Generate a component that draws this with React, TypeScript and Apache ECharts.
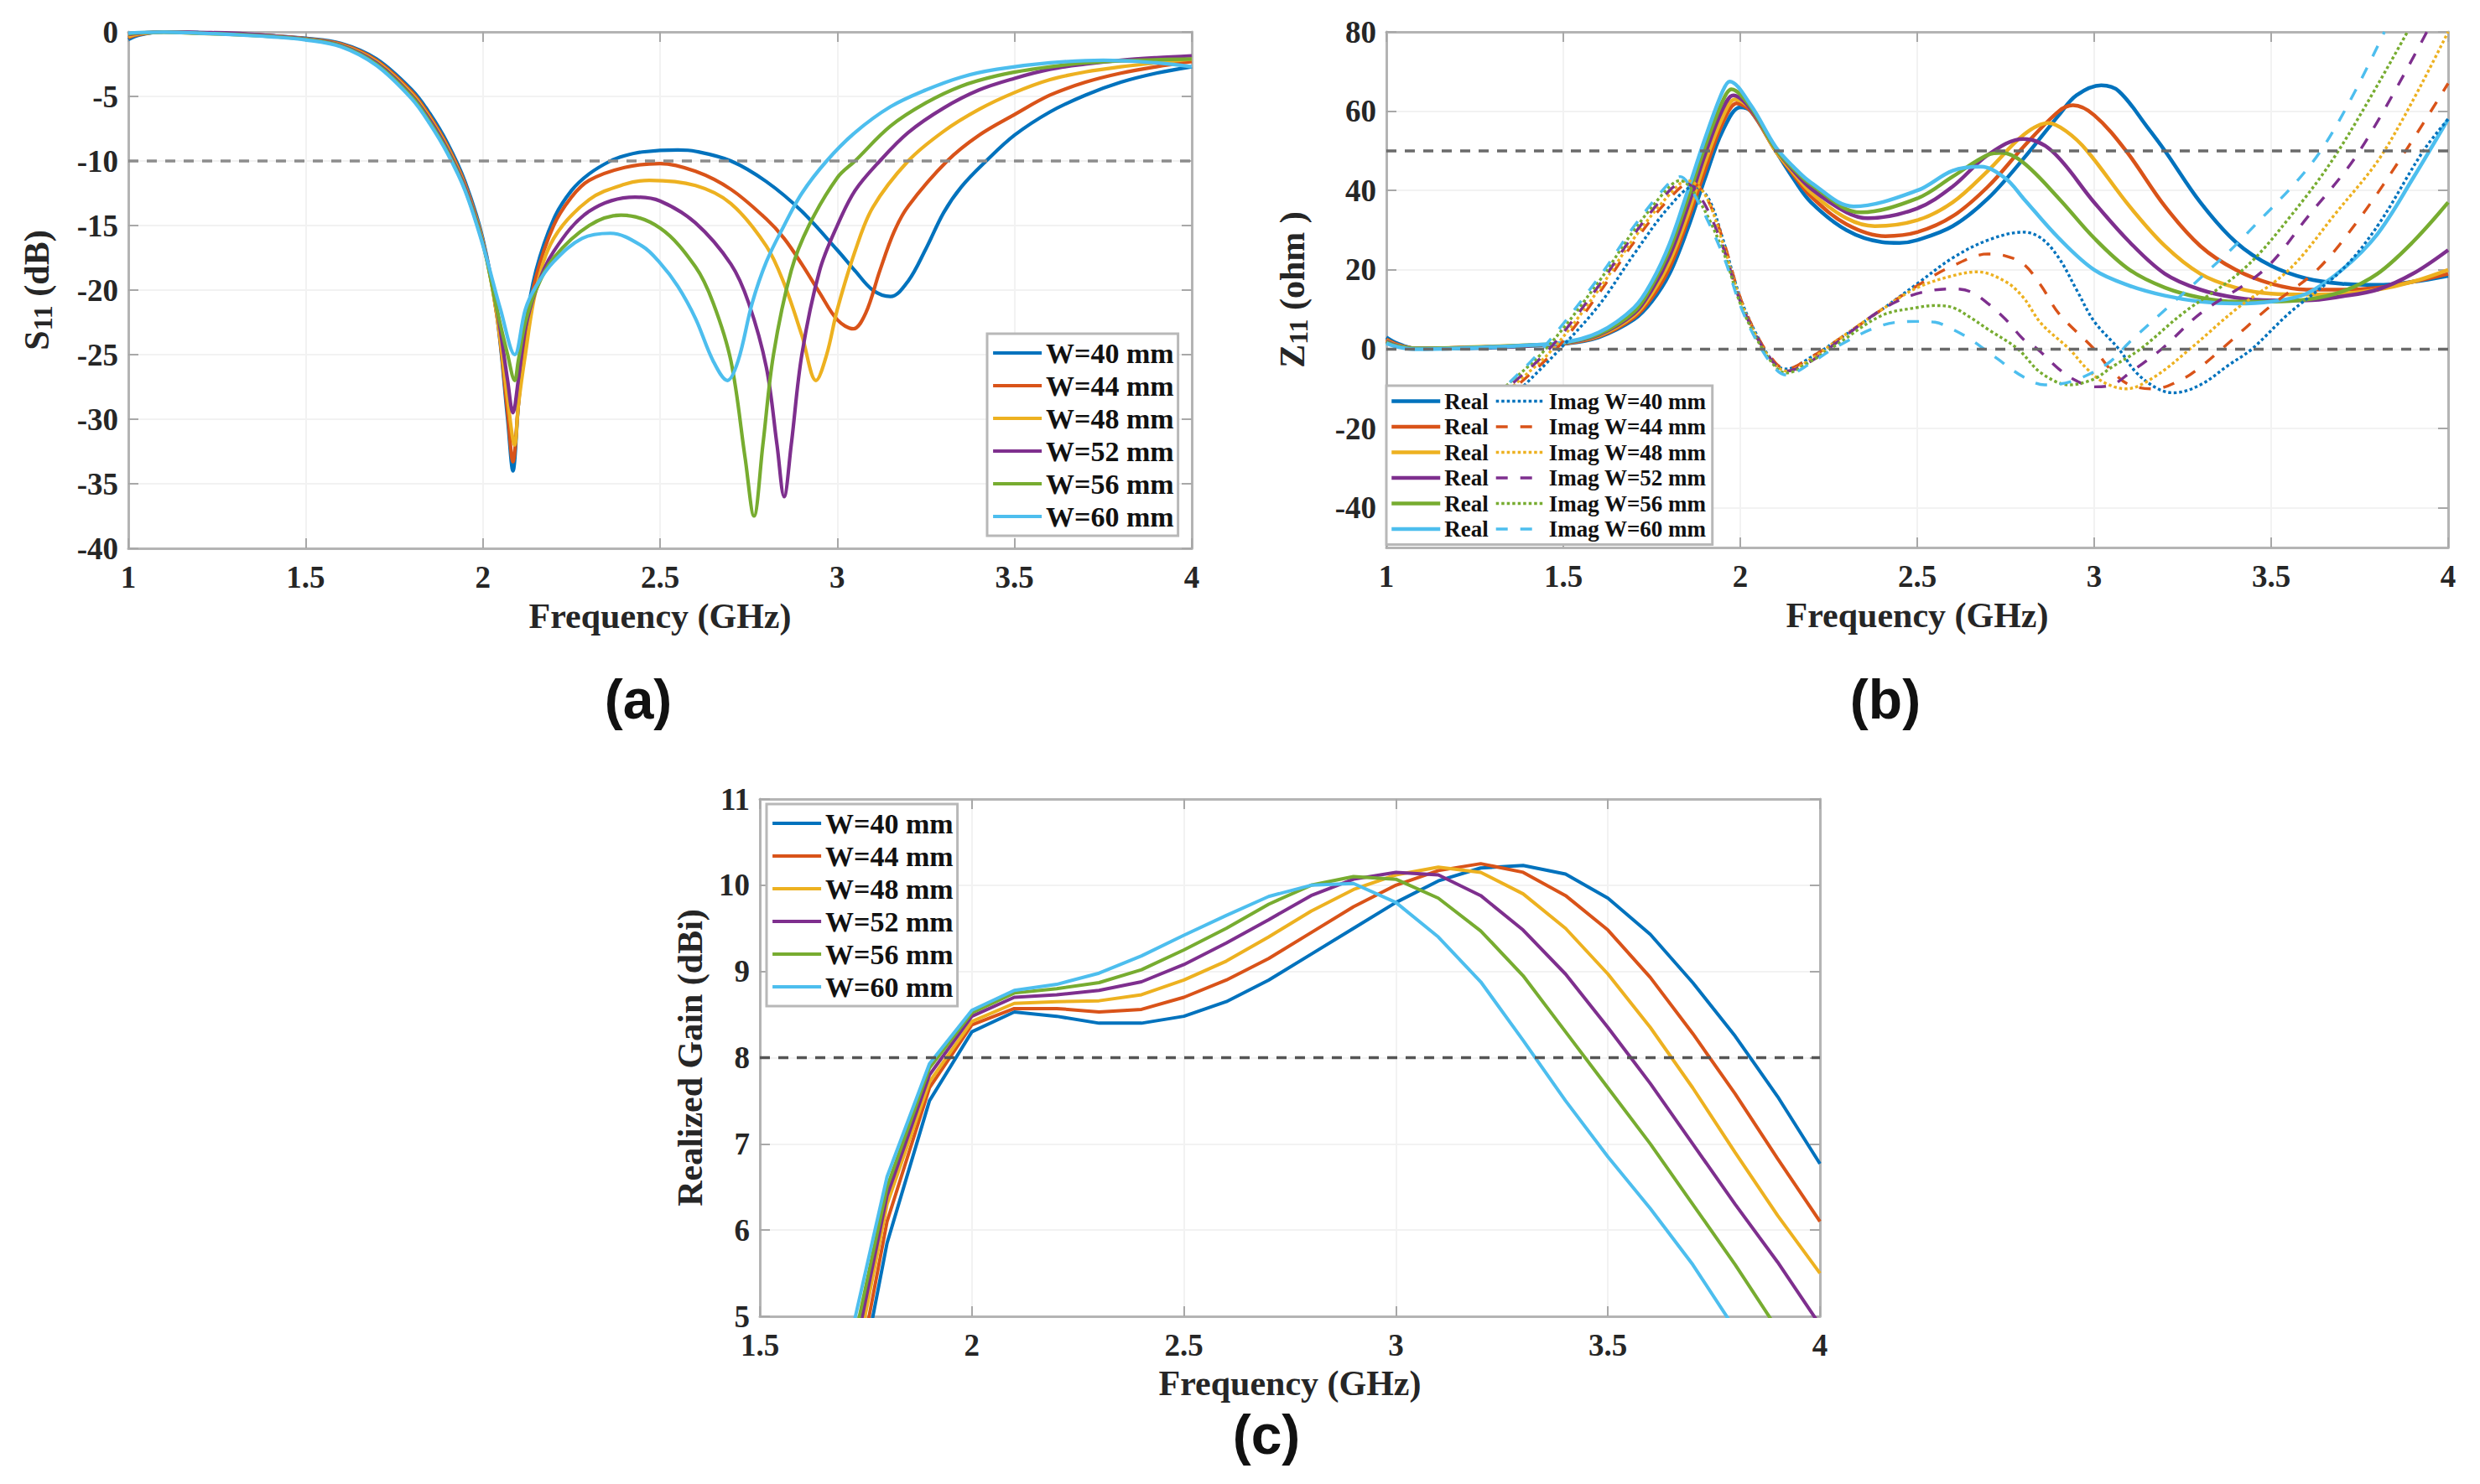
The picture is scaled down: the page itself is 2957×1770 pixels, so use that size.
import React, { useEffect, useRef } from "react";
import * as echarts from "echarts";

type Pt = [number, number];

const COLORS = ["#0072BD", "#D95319", "#EDB120", "#7E2F8E", "#77AC30", "#4DBEEE"];
const WIDTHS = ["W=40 mm", "W=44 mm", "W=48 mm", "W=52 mm", "W=56 mm", "W=60 mm"];
const SERIF = "'Liberation Serif', 'Times New Roman', serif";

// (a) S11
const s11W40: Pt[] = [[1, -0.6], [1.03, -0.25], [1.1, 0], [1.2, -0.05], [1.3, -0.15], [1.4, -0.3], [1.5, -0.5], [1.6, -0.9], [1.7, -2.1], [1.8, -4.5], [1.85, -6.3], [1.9, -8.6], [1.95, -11.6], [2, -16], [2.04, -22], [2.07, -30], [2.085, -34], [2.1, -29], [2.12, -23], [2.15, -18.5], [2.2, -14.5], [2.25, -12.3], [2.3, -11], [2.36, -10], [2.4, -9.6], [2.45, -9.3], [2.55, -9.15], [2.6, -9.25], [2.7, -10], [2.8, -11.6], [2.9, -13.9], [3, -16.9], [3.05, -18.5], [3.1, -20], [3.15, -20.5], [3.2, -19.3], [3.25, -16.8], [3.3, -14], [3.35, -12], [3.42, -10], [3.5, -8], [3.6, -6.2], [3.7, -4.9], [3.8, -3.9], [3.9, -3.2], [4, -2.7]];
const s11W44: Pt[] = [[1, -0.45], [1.03, -0.2], [1.1, 0], [1.2, -0.08], [1.3, -0.16], [1.4, -0.3], [1.5, -0.52], [1.6, -0.95], [1.7, -2.2], [1.8, -4.65], [1.85, -6.5], [1.9, -8.8], [1.95, -11.8], [2, -16.2], [2.04, -22], [2.07, -29.5], [2.085, -33.3], [2.1, -29], [2.12, -23.5], [2.15, -19], [2.2, -15], [2.25, -12.8], [2.3, -11.5], [2.4, -10.5], [2.5, -10.2], [2.6, -10.8], [2.7, -12.2], [2.8, -14.5], [2.85, -16], [2.9, -18], [2.95, -20.2], [3, -22.3], [3.045, -23], [3.08, -21.8], [3.12, -18.5], [3.16, -15.5], [3.2, -13.5], [3.31, -10], [3.4, -8], [3.5, -6.4], [3.6, -4.9], [3.7, -3.9], [3.8, -3.2], [3.9, -2.7], [4, -2.3]];
const s11W48: Pt[] = [[1, -0.35], [1.03, -0.15], [1.1, -0.02], [1.2, -0.12], [1.3, -0.2], [1.4, -0.32], [1.5, -0.55], [1.6, -1], [1.7, -2.3], [1.8, -4.8], [1.85, -6.65], [1.9, -8.95], [1.95, -11.95], [2, -16.2], [2.04, -22], [2.07, -28.5], [2.09, -32], [2.1, -29], [2.12, -25], [2.15, -20], [2.2, -16], [2.3, -13], [2.4, -11.8], [2.47, -11.5], [2.6, -11.9], [2.7, -13.3], [2.8, -16.6], [2.85, -19.5], [2.9, -23.5], [2.94, -27], [2.97, -25], [3, -21.5], [3.05, -17], [3.1, -13.6], [3.2, -10], [3.3, -7.7], [3.4, -6], [3.5, -4.7], [3.6, -3.7], [3.7, -3.1], [3.8, -2.7], [3.9, -2.4], [4, -2.1]];
const s11W52: Pt[] = [[1, -0.2], [1.03, -0.1], [1.1, 0], [1.2, -0.05], [1.3, -0.1], [1.4, -0.3], [1.5, -0.55], [1.6, -1.05], [1.7, -2.4], [1.8, -4.95], [1.85, -6.8], [1.9, -9.1], [1.95, -12.05], [2, -16.3], [2.04, -21.5], [2.07, -27], [2.085, -29.5], [2.1, -27], [2.12, -23], [2.15, -20], [2.2, -17], [2.3, -13.9], [2.43, -12.8], [2.5, -13.1], [2.6, -14.8], [2.7, -18], [2.75, -21], [2.8, -26], [2.83, -32], [2.85, -36], [2.87, -32], [2.9, -25], [2.95, -18.5], [3, -15], [3.05, -12.3], [3.12, -10], [3.2, -7.8], [3.3, -5.9], [3.4, -4.5], [3.5, -3.6], [3.6, -2.9], [3.7, -2.5], [3.8, -2.2], [3.9, -2], [4, -1.85]];
const s11W56: Pt[] = [[1, -0.15], [1.03, -0.08], [1.1, -0.02], [1.2, -0.1], [1.3, -0.2], [1.4, -0.35], [1.5, -0.58], [1.6, -1.1], [1.7, -2.5], [1.8, -5.05], [1.85, -6.95], [1.9, -9.25], [1.95, -12.2], [2, -16.4], [2.04, -21.5], [2.07, -25], [2.09, -27], [2.1, -25.5], [2.12, -22.5], [2.15, -20], [2.2, -17.5], [2.3, -15], [2.39, -14.2], [2.5, -15.2], [2.6, -18.2], [2.65, -21], [2.7, -25.5], [2.74, -33], [2.765, -37.5], [2.79, -32], [2.82, -25], [2.87, -18.5], [2.92, -15], [3, -11.3], [3.05, -10], [3.15, -7.3], [3.25, -5.5], [3.35, -4.2], [3.45, -3.4], [3.55, -2.9], [3.7, -2.4], [3.85, -2.2], [4, -2.1]];
const s11W60: Pt[] = [[1, -0.1], [1.03, -0.05], [1.1, -0.02], [1.2, -0.1], [1.3, -0.22], [1.4, -0.38], [1.5, -0.62], [1.6, -1.15], [1.7, -2.6], [1.8, -5.2], [1.85, -7.1], [1.9, -9.4], [1.95, -12.3], [2, -16.5], [2.05, -21.5], [2.09, -25], [2.12, -21.5], [2.15, -19.7], [2.2, -17.8], [2.28, -16], [2.36, -15.6], [2.45, -16.6], [2.5, -17.9], [2.55, -19.7], [2.6, -22.2], [2.65, -25.5], [2.69, -27], [2.72, -25.5], [2.76, -21], [2.8, -17.8], [2.85, -15], [2.9, -12.5], [2.97, -10], [3.05, -7.8], [3.15, -5.8], [3.25, -4.5], [3.35, -3.5], [3.45, -2.9], [3.6, -2.4], [3.75, -2.2], [3.9, -2.4], [4, -2.7]];
const s11Series = [s11W40, s11W44, s11W48, s11W52, s11W56, s11W60];
const s11Limit: Pt[] = [[1, -10], [4, -10]];

// (b) Z11 real part
const reW40: Pt[] = [[1, 3], [1.03, 1.5], [1.08, 0.2], [1.2, 0.2], [1.4, 0.8], [1.5, 1.3], [1.6, 3], [1.7, 7.5], [1.75, 12], [1.8, 19], [1.85, 30], [1.9, 43], [1.95, 55], [2, 61], [2.03, 60], [2.1, 50], [2.15, 43], [2.2, 37], [2.3, 30], [2.4, 27], [2.45, 26.8], [2.5, 27.5], [2.6, 31], [2.7, 38], [2.8, 48], [2.9, 59], [2.95, 64], [3.02, 66.5], [3.07, 65], [3.15, 56], [3.2, 50], [3.3, 37], [3.4, 27], [3.5, 21], [3.6, 17.8], [3.7, 16.5], [3.8, 16.2], [3.9, 17], [4, 18.5]];
const reW44: Pt[] = [[1, 2.5], [1.03, 1.2], [1.08, 0.2], [1.2, 0.3], [1.4, 0.9], [1.5, 1.4], [1.6, 3.2], [1.7, 8], [1.75, 13], [1.8, 20.5], [1.85, 32], [1.9, 45], [1.95, 57], [1.99, 62], [2.03, 60], [2.1, 50], [2.15, 44], [2.2, 38.5], [2.3, 31.5], [2.41, 28.5], [2.5, 29.5], [2.6, 33.5], [2.7, 41], [2.8, 51], [2.9, 60], [2.94, 61.5], [3, 59], [3.09, 50], [3.2, 36], [3.3, 26], [3.4, 20], [3.5, 16.5], [3.6, 15], [3.7, 15], [3.8, 15.5], [3.9, 17], [4, 19]];
const reW48: Pt[] = [[1, 2.2], [1.03, 1], [1.08, 0.2], [1.2, 0.4], [1.4, 1], [1.5, 1.5], [1.6, 3.4], [1.7, 8.5], [1.75, 14], [1.8, 22], [1.85, 33.5], [1.9, 47], [1.95, 58.5], [1.985, 63], [2.03, 60.5], [2.1, 50], [2.15, 44.5], [2.2, 39.5], [2.3, 33], [2.38, 31], [2.5, 32.5], [2.6, 37], [2.7, 45], [2.8, 54], [2.87, 57], [2.92, 55], [2.98, 50], [3.1, 36], [3.2, 26], [3.3, 19], [3.4, 15.5], [3.5, 14], [3.6, 13.8], [3.7, 14], [3.8, 15], [3.9, 17], [4, 20]];
const reW52: Pt[] = [[1, 2], [1.03, 0.9], [1.08, 0.2], [1.2, 0.3], [1.4, 0.9], [1.5, 1.5], [1.6, 3.6], [1.7, 9], [1.75, 15], [1.8, 23.5], [1.85, 35.5], [1.9, 49], [1.95, 60.5], [1.98, 64], [2.03, 60.5], [2.1, 50.5], [2.15, 45], [2.2, 40.5], [2.3, 34.5], [2.36, 33], [2.5, 35.5], [2.6, 41], [2.7, 49], [2.8, 53], [2.88, 50], [3, 37], [3.1, 27], [3.2, 19], [3.3, 15], [3.4, 13], [3.5, 12.3], [3.6, 12.3], [3.7, 13.3], [3.8, 15], [3.9, 19], [4, 25]];
const reW56: Pt[] = [[1, 1.8], [1.03, 0.8], [1.08, 0.2], [1.2, 0.3], [1.4, 1], [1.5, 1.6], [1.6, 3.8], [1.7, 9.5], [1.75, 16], [1.8, 25], [1.85, 37.5], [1.9, 51], [1.95, 62.5], [1.975, 65.5], [2.03, 61], [2.1, 50.5], [2.15, 45.5], [2.2, 41.5], [2.34, 34.5], [2.5, 38], [2.6, 43.5], [2.7, 49], [2.74, 49.5], [2.8, 47], [2.9, 38], [3, 28], [3.1, 20], [3.2, 15.5], [3.3, 13], [3.4, 12], [3.5, 12], [3.6, 12.5], [3.7, 14.5], [3.8, 19], [3.9, 27], [4, 37]];
const reW60: Pt[] = [[1, 1.5], [1.03, 0.6], [1.08, 0], [1.2, 0.2], [1.4, 1], [1.5, 1.7], [1.6, 4.2], [1.7, 10.5], [1.75, 17], [1.8, 26.5], [1.85, 39.5], [1.9, 53], [1.95, 65], [1.97, 67.5], [2.03, 61.5], [2.1, 51], [2.15, 46], [2.2, 42], [2.32, 36], [2.5, 40], [2.6, 45], [2.68, 46], [2.75, 43], [2.8, 38], [2.9, 28], [3, 20], [3.1, 16], [3.2, 13.5], [3.3, 12], [3.4, 11.5], [3.5, 12], [3.6, 14], [3.7, 20], [3.8, 29], [3.9, 43], [4, 58]];
const reSeries = [reW40, reW44, reW48, reW52, reW56, reW60];

// (b) Z11 imaginary part
const imW40: Pt[] = [[1.3, -17], [1.38, -10], [1.49, 0], [1.6, 11], [1.7, 24], [1.8, 36], [1.87, 41], [1.91, 38], [1.95, 28], [2, 13], [2.05, 3], [2.1, -4], [2.13, -5], [2.2, -2], [2.27, 2], [2.4, 10], [2.5, 16.5], [2.6, 23], [2.7, 27.5], [2.8, 29.5], [2.85, 28], [2.9, 23], [2.95, 15], [3, 7], [3.07, 0], [3.12, -6], [3.18, -10], [3.225, -11], [3.3, -9], [3.38, -4], [3.445, 0], [3.55, 9], [3.7, 20], [3.8, 31], [3.93, 50], [4, 58]];
const imW44: Pt[] = [[1.28, -17], [1.36, -10], [1.48, 0], [1.6, 14], [1.7, 27], [1.8, 38], [1.86, 42], [1.9, 39], [1.95, 28], [2, 13], [2.05, 3], [2.1, -3.5], [2.13, -5], [2.2, -2], [2.27, 2], [2.4, 10], [2.5, 16], [2.6, 21], [2.7, 24], [2.75, 23.5], [2.8, 21.5], [2.85, 16], [2.9, 9], [3, 0], [3.05, -5.5], [3.1, -9], [3.17, -10], [3.25, -7.5], [3.3, -4.5], [3.36, 0], [3.5, 11], [3.63, 20], [3.75, 33], [3.88, 50], [4, 67]];
const imW48: Pt[] = [[1.27, -17], [1.35, -10], [1.47, 0], [1.6, 15], [1.7, 28], [1.8, 39], [1.85, 42.5], [1.9, 39], [1.95, 27], [2, 12.5], [2.05, 2.5], [2.1, -4], [2.13, -5.5], [2.2, -2.5], [2.27, 2], [2.4, 10], [2.5, 15.5], [2.6, 18.5], [2.67, 19.5], [2.75, 17], [2.8, 13], [2.85, 6.5], [2.93, 0], [2.98, -5], [3.03, -8.5], [3.09, -10], [3.17, -7], [3.27, 0], [3.4, 10], [3.55, 20], [3.68, 34], [3.82, 50], [4, 80]];
const imW52: Pt[] = [[1.26, -17], [1.34, -10], [1.46, 0], [1.6, 16], [1.7, 29], [1.8, 40], [1.84, 42], [1.89, 38], [1.95, 26], [2, 12], [2.05, 2.5], [2.1, -4], [2.13, -5.5], [2.2, -3], [2.27, 1.5], [2.4, 10], [2.5, 14], [2.6, 15.2], [2.65, 14.5], [2.7, 11.5], [2.75, 7.5], [2.8, 2.5], [2.84, 0], [2.9, -5], [2.95, -8], [3, -9.5], [3.05, -9], [3.1, -6], [3.19, 0], [3.3, 9], [3.48, 20], [3.6, 33], [3.75, 50], [3.94, 80]];
const imW56: Pt[] = [[1.25, -17], [1.33, -10], [1.45, 0], [1.6, 17], [1.7, 30], [1.8, 41], [1.83, 42.5], [1.88, 38], [1.95, 25], [2, 11.5], [2.05, 2], [2.1, -4.5], [2.13, -6], [2.2, -3], [2.27, 1], [2.4, 8.5], [2.5, 10.5], [2.55, 11], [2.6, 10.5], [2.65, 8], [2.7, 5], [2.785, 0], [2.85, -6], [2.93, -9], [3, -7.5], [3.05, -4.5], [3.13, 0], [3.25, 9], [3.42, 20], [3.55, 33], [3.69, 50], [3.885, 80]];
const imW60: Pt[] = [[1.25, -17], [1.33, -10], [1.44, 0], [1.6, 18], [1.7, 31], [1.8, 42], [1.83, 43.5], [1.87, 39], [1.95, 24], [2, 11], [2.05, 1.5], [2.1, -5], [2.13, -6.5], [2.2, -3.5], [2.27, 0.5], [2.4, 6], [2.5, 7], [2.55, 6.8], [2.6, 5], [2.65, 2.5], [2.72, -2], [2.8, -7], [2.86, -9], [2.94, -8], [3.04, -3.5], [3.1, 1.8], [3.21, 10.7], [3.32, 19.6], [3.43, 29], [3.64, 50], [3.82, 80]];
const imSeries = [imW40, imW44, imW48, imW52, imW56, imW60];
const imDashes = ["dot", "dash", "dot", "dash", "dot", "dash"];
const zRefHigh: Pt[] = [[1, 50], [4, 50]];
const zRefZero: Pt[] = [[1, 0], [4, 0]];

// (c) realized gain, sampled every 0.1 GHz from 1.7 to 4
const gainFreq = [1.7, 1.8, 1.9, 2, 2.1, 2.2, 2.3, 2.4, 2.5, 2.6, 2.7, 2.8, 2.9, 3, 3.1, 3.2, 3.3, 3.4, 3.5, 3.6, 3.7, 3.8, 3.9, 4];
const gainW40 = [3.3, 5.85, 7.5, 8.3, 8.53, 8.48, 8.4, 8.4, 8.48, 8.65, 8.9, 9.2, 9.5, 9.8, 10.05, 10.2, 10.23, 10.13, 9.85, 9.43, 8.87, 8.25, 7.55, 6.77];
const gainW44 = [3.5, 6.1, 7.65, 8.38, 8.57, 8.57, 8.53, 8.56, 8.7, 8.9, 9.15, 9.45, 9.75, 10, 10.17, 10.25, 10.15, 9.88, 9.48, 8.93, 8.28, 7.58, 6.83, 6.1];
const gainW48 = [3.8, 6.3, 7.72, 8.42, 8.63, 8.65, 8.66, 8.73, 8.9, 9.12, 9.4, 9.7, 9.95, 10.12, 10.21, 10.15, 9.9, 9.5, 8.97, 8.35, 7.65, 6.9, 6.17, 5.5];
const gainW52 = [4, 6.4, 7.8, 8.48, 8.7, 8.73, 8.78, 8.88, 9.08, 9.33, 9.6, 9.88, 10.07, 10.15, 10.12, 9.88, 9.48, 8.97, 8.35, 7.7, 7, 6.3, 5.63, 4.9];
const gainW56 = [4.2, 6.5, 7.88, 8.52, 8.75, 8.8, 8.87, 9.02, 9.25, 9.5, 9.78, 10, 10.1, 10.07, 9.85, 9.47, 8.95, 8.3, 7.65, 7, 6.3, 5.6, 4.85, 4.2];
const gainW60 = [4.45, 6.62, 7.93, 8.55, 8.78, 8.85, 8.98, 9.18, 9.42, 9.65, 9.87, 10, 10.02, 9.8, 9.4, 8.88, 8.2, 7.5, 6.85, 6.25, 5.6, 4.85, 4.2, 3.5];
const gainSeries = [gainW40, gainW44, gainW48, gainW52, gainW56, gainW60];
const gainRef: Pt[] = [[1.5, 8], [4, 8]];

const zTicks = [-40, -20, 0, 20, 40, 60, 80];

const axisGray = "#b4b4b4";
const tickStyle = { show: true, inside: true, length: 12, lineStyle: { color: "#a8a8a8", width: 2 } };

function xAxes(gridIndex: number, min: number, nameGap: number) {
  return [
    {
      gridIndex, type: "value", min, max: 4, interval: 0.5, position: "bottom",
      name: "Frequency (GHz)", nameLocation: "middle", nameGap,
      nameTextStyle: { fontFamily: SERIF, fontWeight: "bold", fontSize: 42, color: "#262626" },
      axisLine: { onZero: false, lineStyle: { color: axisGray, width: 3 } },
      axisTick: tickStyle,
      axisLabel: { fontFamily: SERIF, fontWeight: "bold", fontSize: 37, color: "#262626", margin: 16 },
      splitLine: { show: true, lineStyle: { color: "#f2f2f2", width: 2 } },
    },
    {
      gridIndex, type: "value", min, max: 4, interval: 0.5, position: "top",
      axisLine: { onZero: false, lineStyle: { color: axisGray, width: 3 } },
      axisTick: tickStyle, axisLabel: { show: false }, splitLine: { show: false },
    },
  ];
}

function yAxes(gridIndex: number, min: number, max: number, interval: number, name: string, nameGap: number, custom?: number[]) {
  const tick = custom ? { ...tickStyle, customValues: custom } : tickStyle;
  return [
    {
      gridIndex, type: "value", min, max, interval, position: "left",
      name, nameLocation: "middle", nameGap,
      nameTextStyle: {
        fontFamily: SERIF, fontWeight: "bold", fontSize: 42, color: "#262626",
        rich: {
          b: { fontFamily: SERIF, fontWeight: "bold", fontSize: 42, color: "#262626", lineHeight: 46 },
          sub: { fontFamily: SERIF, fontWeight: "bold", fontSize: 32, color: "#262626", lineHeight: 46, verticalAlign: "bottom", padding: [16, 0, 0, 0] },
        },
      },
      axisLine: { onZero: false, lineStyle: { color: axisGray, width: 3 } },
      axisTick: tick,
      axisLabel: { fontFamily: SERIF, fontWeight: "bold", fontSize: 37, color: "#262626", margin: 12, ...(custom ? { customValues: custom } : {}) },
      splitLine: { show: true, lineStyle: { color: "#f2f2f2", width: 2 } },
    },
    {
      gridIndex, type: "value", min, max, interval, position: "right",
      axisLine: { onZero: false, lineStyle: { color: axisGray, width: 3 } },
      axisTick: tick, axisLabel: { show: false }, splitLine: { show: false },
    },
  ];
}

function lineSeries(name: string, data: Pt[], axis: number, color: string, width: number, smooth: boolean, dash?: string) {
  const type = dash === "dot" ? [3.5, 3] : dash === "dash" ? [14, 15] : "solid";
  return {
    type: "line", name, data, xAxisIndex: axis, yAxisIndex: axis, showSymbol: false, symbol: "none",
    smooth: smooth ? 0.35 : false,
    lineStyle: { color, width, type },
    itemStyle: { color },
    emphasis: { disabled: true }, silent: true,
  };
}

function refLine(name: string, data: Pt[], axis: number, color: string) {
  return {
    type: "line", name, data, xAxisIndex: axis, yAxisIndex: axis, showSymbol: false, symbol: "none", silent: true,
    lineStyle: { color, width: 3.5, type: [12, 10] }, z: 3,
  };
}

function buildOption() {
  const series: any[] = [];
  WIDTHS.forEach((w, i) => series.push(lineSeries(w, s11Series[i], 0, COLORS[i], 4.2, true)));
  series.push(refLine("limit a", s11Limit, 0, "#8c8c8c"));

  WIDTHS.forEach((w, i) => series.push(lineSeries(`Real ${w}`, reSeries[i], 2, COLORS[i], 4.5, true)));
  WIDTHS.forEach((w, i) => series.push(lineSeries(`Imag ${w}`, imSeries[i], 2, COLORS[i], 3.4, true, imDashes[i])));
  series.push(refLine("ref b1", zRefHigh, 2, "#6a6a6a"));
  series.push(refLine("ref b2", zRefZero, 2, "#6a6a6a"));

  WIDTHS.forEach((w, i) => {
    const pts = gainFreq.map((f, k) => [f, gainSeries[i][k]] as Pt);
    series.push(lineSeries(w, pts, 4, COLORS[i], 4, false));
  });
  series.push(refLine("ref c", gainRef, 4, "#555555"));

  const boxLegend = (left: number, top: number) => ({
    left, top, orient: "vertical", selectedMode: false, data: WIDTHS,
    itemWidth: 58, itemHeight: 14, itemGap: 5, padding: [6, 5, 6, 5],
    backgroundColor: "#ffffff", borderColor: "#b8b8b8", borderWidth: 3,
    itemStyle: { opacity: 0 }, lineStyle: { width: 4.2 },
    textStyle: { fontFamily: SERIF, fontWeight: "bold", fontSize: 34, color: "#111111" },
  });
  const zText = { fontFamily: SERIF, fontWeight: "bold", fontSize: 27, color: "#111111" };

  const caption = (text: string, x: number, y: number) => ({
    type: "text", x, y, silent: true,
    style: { text, fontFamily: "'Liberation Sans', Arial, sans-serif", fontWeight: "bold", fontSize: 66, fill: "#111111", textAlign: "center", textVerticalAlign: "middle" },
  });

  return {
    animation: false,
    backgroundColor: "#ffffff",
    grid: [
      { left: 153, top: 38, width: 1268, height: 616 },
      { left: 1653, top: 38, width: 1266, height: 615 },
      { left: 906, top: 953, width: 1264, height: 617 },
    ],
    xAxis: [...xAxes(0, 1, 60), ...xAxes(1, 1, 60), ...xAxes(2, 1.5, 59)],
    yAxis: [
      ...yAxes(0, -40, 0, 5, "{b|S}{sub|11}{b| (dB)}", 86),
      ...yAxes(1, -50, 80, 10, "{b|Z}{sub|11}{b| (ohm )}", 89, zTicks),
      ...yAxes(2, 5, 11, 1, "{b|Realized Gain (dBi)}", 60),
    ],
    legend: [
      boxLegend(1177, 398),
      {
        // carries the white box of the whole two-column legend
        left: 1653, top: 460, orient: "vertical", selectedMode: false,
        data: WIDTHS.map((w) => `Real ${w}`), formatter: () => "Real",
        itemWidth: 58, itemHeight: 12, itemGap: 3.5, padding: [5, 267, 5, 4],
        backgroundColor: "#ffffff", borderColor: "#b8b8b8", borderWidth: 3,
        itemStyle: { opacity: 0 }, lineStyle: { width: 4.5 },
        textStyle: zText, z: 5,
      },
      {
        left: 1782, top: 465, orient: "vertical", selectedMode: false,
        data: WIDTHS.map((w) => `Imag ${w}`),
        itemWidth: 58, itemHeight: 12, itemGap: 3.5, padding: 0,
        itemStyle: { opacity: 0 }, lineStyle: { width: 3.4 },
        textStyle: zText, z: 6,
      },
      boxLegend(914, 959),
    ],
    graphic: [
      caption("(a)", 761, 834),
      caption("(b)", 2248, 834),
      caption("(c)", 1510, 1711),
    ],
    series,
  };
}

export default function App() {
  const chartRef = useRef<HTMLDivElement>(null);

  useEffect(() => {
    document.body.style.margin = "0";
    if (!chartRef.current) return;
    const chart = echarts.init(chartRef.current, undefined, { renderer: "svg" });
    chart.setOption(buildOption() as any);
    return () => chart.dispose();
  }, []);

  return <div ref={chartRef} style={{ width: 2957, height: 1770, background: "#fff" }} />;
}
